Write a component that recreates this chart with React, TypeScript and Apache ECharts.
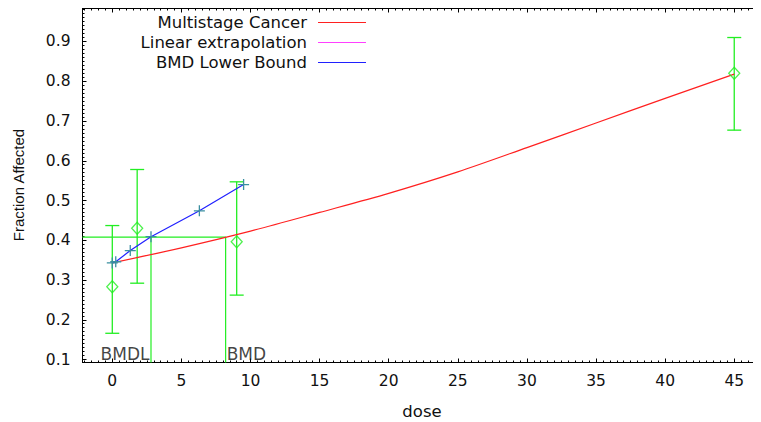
import React, { useEffect, useRef } from "react";
import * as echarts from "echarts";

// Observed data (dose groups) with confidence limits
const doses = [0, 1.8, 9.0, 45];
const observed = [0.283, 0.43, 0.396, 0.82];
const ciLower = [0.166, 0.292, 0.262, 0.677];
const ciUpper = [0.437, 0.578, 0.547, 0.91];

// Multistage Cancer fitted curve
const curveDoses = [0, 5, 10, 15, 20, 25, 30, 35, 40, 45];
const curveValues = [0.343, 0.381, 0.423, 0.47, 0.518, 0.572, 0.633, 0.695, 0.757, 0.818];

// BMD Lower Bound line
const bmdlDoses = [0, 0.25, 1.3, 2.8, 6.3, 9.5];
const bmdlValues = [0.343, 0.346, 0.374, 0.409, 0.474, 0.54];

// Benchmark values
const BMR_LEVEL = 0.408;
const BMD = 8.2;
const BMDL = 2.8;

// Tick labels
const xTicks = [0, 5, 10, 15, 20, 25, 30, 35, 40, 45];
const yTicks = [0.1, 0.2, 0.3, 0.4, 0.5, 0.6, 0.7, 0.8, 0.9];

const legendItems = ["Multistage Cancer", "Linear extrapolation", "BMD Lower Bound"];
const legendColors = ["#ff2020", "#ff40ff", "#2020ff"];

const XMIN = -2.156;
const XMAX = 46.9;
const YMIN = 0.0925;
const YMAX = 0.983;

const GREEN = "#22ee22";
const FONT = "DejaVu Sans";

export default function App() {
  const ref = useRef<HTMLDivElement>(null);

  useEffect(() => {
    if (!ref.current) return;
    const chart = echarts.init(ref.current, undefined, { renderer: "svg" });

    const xMinor: number[] = [];
    for (let v = -2; v <= 46.5; v += 0.5) xMinor.push(v);
    const yMinor: number[] = [];
    for (let i = 10; i <= 98; i++) yMinor.push(i / 100);

    const lineStyle = { color: "#000", width: 1 };
    const mkAxis = (kind: "x" | "y", position: string, major: boolean, labels: boolean): any => ({
      type: "value",
      min: kind === "x" ? XMIN : YMIN,
      max: kind === "x" ? XMAX : YMAX,
      position,
      splitLine: { show: false },
      axisLine: { show: major, onZero: false, lineStyle },
      axisTick: {
        show: true,
        inside: true,
        length: major ? 4 : 2,
        customValues: major ? (kind === "x" ? xTicks : yTicks) : kind === "x" ? xMinor : yMinor,
        lineStyle,
      },
      axisLabel: labels
        ? {
            show: true,
            customValues: kind === "x" ? xTicks : yTicks,
            fontFamily: FONT,
            fontSize: 15.5,
            color: "#111",
            margin: kind === "x" ? 10 : 12,
            formatter: kind === "x" ? (v: number) => String(v) : (v: number) => v.toFixed(1),
          }
        : { show: false },
    });

    const xAxes = [
      mkAxis("x", "bottom", true, true),
      mkAxis("x", "bottom", false, false),
      mkAxis("x", "top", true, false),
      mkAxis("x", "top", false, false),
    ];
    const yAxes = [
      mkAxis("y", "left", true, true),
      mkAxis("y", "left", false, false),
      mkAxis("y", "right", true, false),
      mkAxis("y", "right", false, false),
    ];

    const legendGraphics: any[] = [];
    legendItems.forEach((name, i) => {
      const y = 22 + i * 20;
      legendGraphics.push({
        type: "text",
        x: 307,
        y,
        style: {
          text: name,
          fill: "#111",
          font: `16.5px "${FONT}"`,
          align: "right",
          verticalAlign: "middle",
        },
      });
      legendGraphics.push({
        type: "line",
        shape: { x1: 318, y1: y + 0.5, x2: 366, y2: y + 0.5 },
        style: { stroke: legendColors[i], lineWidth: 1 },
      });
    });

    chart.setOption({
      animation: false,
      backgroundColor: "#fff",
      grid: { left: 82.5, top: 8.5, width: 678, height: 354, containLabel: false },
      xAxis: xAxes,
      yAxis: yAxes,
      graphic: [
        {
          type: "rect",
          shape: { x: 82.5, y: 8.5, width: 678, height: 354 },
          style: { fill: "none", stroke: "#000", lineWidth: 1 },
          silent: true,
          z: 0,
        },
        ...legendGraphics,
        {
          type: "text",
          x: 18,
          y: 185,
          rotation: Math.PI / 2,
          style: {
            text: "Fraction Affected",
            fill: "#111",
            font: `15px "Liberation Sans"`,
            align: "center",
            verticalAlign: "middle",
          },
        },
        {
          type: "text",
          x: 422,
          y: 411,
          style: {
            text: "dose",
            fill: "#111",
            font: `16.5px "${FONT}"`,
            align: "center",
            verticalAlign: "middle",
          },
        },
      ],
      series: [
        {
          name: "BMR",
          type: "line",
          data: [
            [XMIN, BMR_LEVEL],
            [BMD, BMR_LEVEL],
            [BMD, YMIN],
          ],
          showSymbol: false,
          lineStyle: { color: GREEN, width: 1.2 },
          z: 1,
        },
        {
          name: "BMDL vertical",
          type: "line",
          data: [
            [BMDL, BMR_LEVEL],
            [BMDL, YMIN],
          ],
          showSymbol: false,
          lineStyle: { color: GREEN, width: 1.2 },
          z: 1,
        },
        {
          name: "Error bars",
          type: "custom",
          data: doses.map((d, i) => [d, ciLower[i], ciUpper[i]]),
          encode: { x: 0, y: [1, 2] },
          renderItem: (params: any, api: any) => {
            const x = api.value(0);
            const lo = api.coord([x, api.value(1)]);
            const hi = api.coord([x, api.value(2)]);
            const hw = 7;
            const st = { stroke: GREEN, lineWidth: 1.3 };
            return {
              type: "group",
              children: [
                { type: "line", shape: { x1: lo[0], y1: lo[1], x2: hi[0], y2: hi[1] }, style: st },
                { type: "line", shape: { x1: lo[0] - hw, y1: lo[1], x2: lo[0] + hw, y2: lo[1] }, style: st },
                { type: "line", shape: { x1: hi[0] - hw, y1: hi[1], x2: hi[0] + hw, y2: hi[1] }, style: st },
              ],
            };
          },
          z: 2,
        },
        {
          name: "Multistage Cancer",
          type: "line",
          data: curveDoses.map((d, i) => [d, curveValues[i]]),
          smooth: 0.3,
          showSymbol: false,
          lineStyle: { color: "#ff2020", width: 1.2 },
          z: 3,
        },
        {
          name: "BMD Lower Bound",
          type: "line",
          data: bmdlDoses.map((d, i) => [d, bmdlValues[i]]),
          symbol: "path://M0,5L10,5M5,0L5,10",
          symbolSize: 11,
          showSymbol: true,
          itemStyle: { color: "rgba(0,0,0,0)", borderColor: "#3a8fa0", borderWidth: 1.3 },
          lineStyle: { color: "#2020ff", width: 1.2 },
          z: 4,
        },
        {
          name: "Observed",
          type: "scatter",
          data: doses.map((d, i) => [d, observed[i]]),
          symbol: "diamond",
          symbolSize: [11, 12],
          itemStyle: { color: "rgba(0,0,0,0)", borderColor: GREEN, borderWidth: 1.3 },
          z: 5,
        },
        {
          name: "Labels",
          type: "scatter",
          data: [
            { value: [BMDL, YMIN], label: { formatter: "BMDL", align: "right", position: [-1, 0] } },
            { value: [BMD, YMIN], label: { formatter: "BMD", align: "left", position: [1.5, 0] } },
          ],
          symbolSize: 1,
          itemStyle: { color: "rgba(0,0,0,0)" },
          label: {
            show: true,
            verticalAlign: "bottom",
            fontFamily: FONT,
            fontSize: 17,
            color: "#111",
          },
          z: 6,
        },
      ],
    });

    return () => chart.dispose();
  }, []);

  return <div ref={ref} style={{ width: 761, height: 422, marginLeft: -8, marginTop: -8 }} />;
}
